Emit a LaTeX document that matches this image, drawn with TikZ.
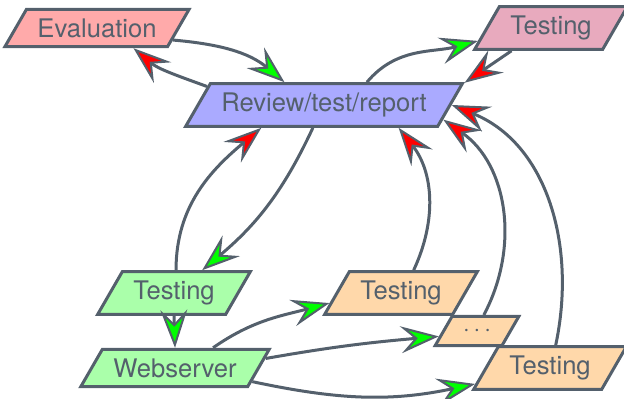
\documentclass[tikz,border=0pt]{standalone}
\usepackage{fontspec}
\setmainfont{TeX Gyre Heros}
\usetikzlibrary{shapes.geometric,arrows.meta}
\definecolor{slate}{RGB}{84,96,108}
\definecolor{evalred}{RGB}{255,170,170}
\definecolor{testpink}{RGB}{232,170,190}
\definecolor{reviewblue}{RGB}{170,170,255}
\definecolor{webgreen}{RGB}{170,255,170}
\definecolor{testorange}{RGB}{255,216,170}
\begin{document}
\begin{tikzpicture}[x=0.5pt,y=0.5pt,
        box/.style={trapezium,trapezium left angle=60,trapezium right angle=120,
            draw=slate,line width=1.5pt,text=slate,inner xsep=5.5pt,inner ysep=4.6pt,
            font=\fontsize{12.8}{15}\selectfont},
        passline/.style={draw=slate,line width=1.5pt,-{Stealth[length=19pt,width=13.5pt,inset=7pt,line width=1pt,fill=green]}},
        failline/.style={draw=slate,line width=1.5pt,-{Stealth[length=19pt,width=13.5pt,inset=7pt,line width=1pt,fill=red]}}]
    \useasboundingbox (0,0) rectangle (624,398);
    \node[box,fill=evalred] (evaluation) at (97,370) {Evaluation};
    \node[box,fill=testpink] (testtop) at (551,370) {Testing};
    \node[box,fill=reviewblue] (review) at (324,293) {Review/test/report};
    \node[box,fill=webgreen] (testgreen) at (174,105) {Testing};
    \node[box,fill=webgreen] (webserver) at (175,30) {Webserver};
    \node[box,fill=testorange] (testmid) at (401,105) {Testing};
    \node[box,fill=testorange,minimum height=14.5pt] (dots) at (477,67) {$\cdots$};
    \node[box,fill=testorange] (testbot) at (550,30) {Testing};
    % top row
    \draw[passline] (evaluation.-9) to[out=-5,in=140] (review.150);
    \draw[failline] (review.171) to[out=160,in=-40] (evaluation.-29);
    \draw[passline] (review.28) to[out=50,in=195] (testtop.190);
    \draw[failline] (testtop.210) -- (review.9);
    % review and the test nodes
    \draw[passline] (review.244) to[out=-115,in=40] (testgreen.39);
    \draw[failline] (testgreen.85) to[out=90,in=220] (review.200);
    \draw[passline] (testgreen.south) -- (webserver.north);
    \draw[passline] (webserver.28) to[out=35,in=195] (testmid.188);
    \draw[passline] (webserver.6) to[out=10,in=185] (dots.188);
    \draw[passline] (webserver.-10) to[out=-12,in=192] (testbot.192);
    \draw[failline] (testmid.61) to[out=65,in=-52] (review.-17);
    \draw[failline] (dots.67) to[out=62,in=-35] (review.-7);
    \draw[failline] (testbot.76) to[out=78,in=-22] (review.0);
\end{tikzpicture}
\end{document}
